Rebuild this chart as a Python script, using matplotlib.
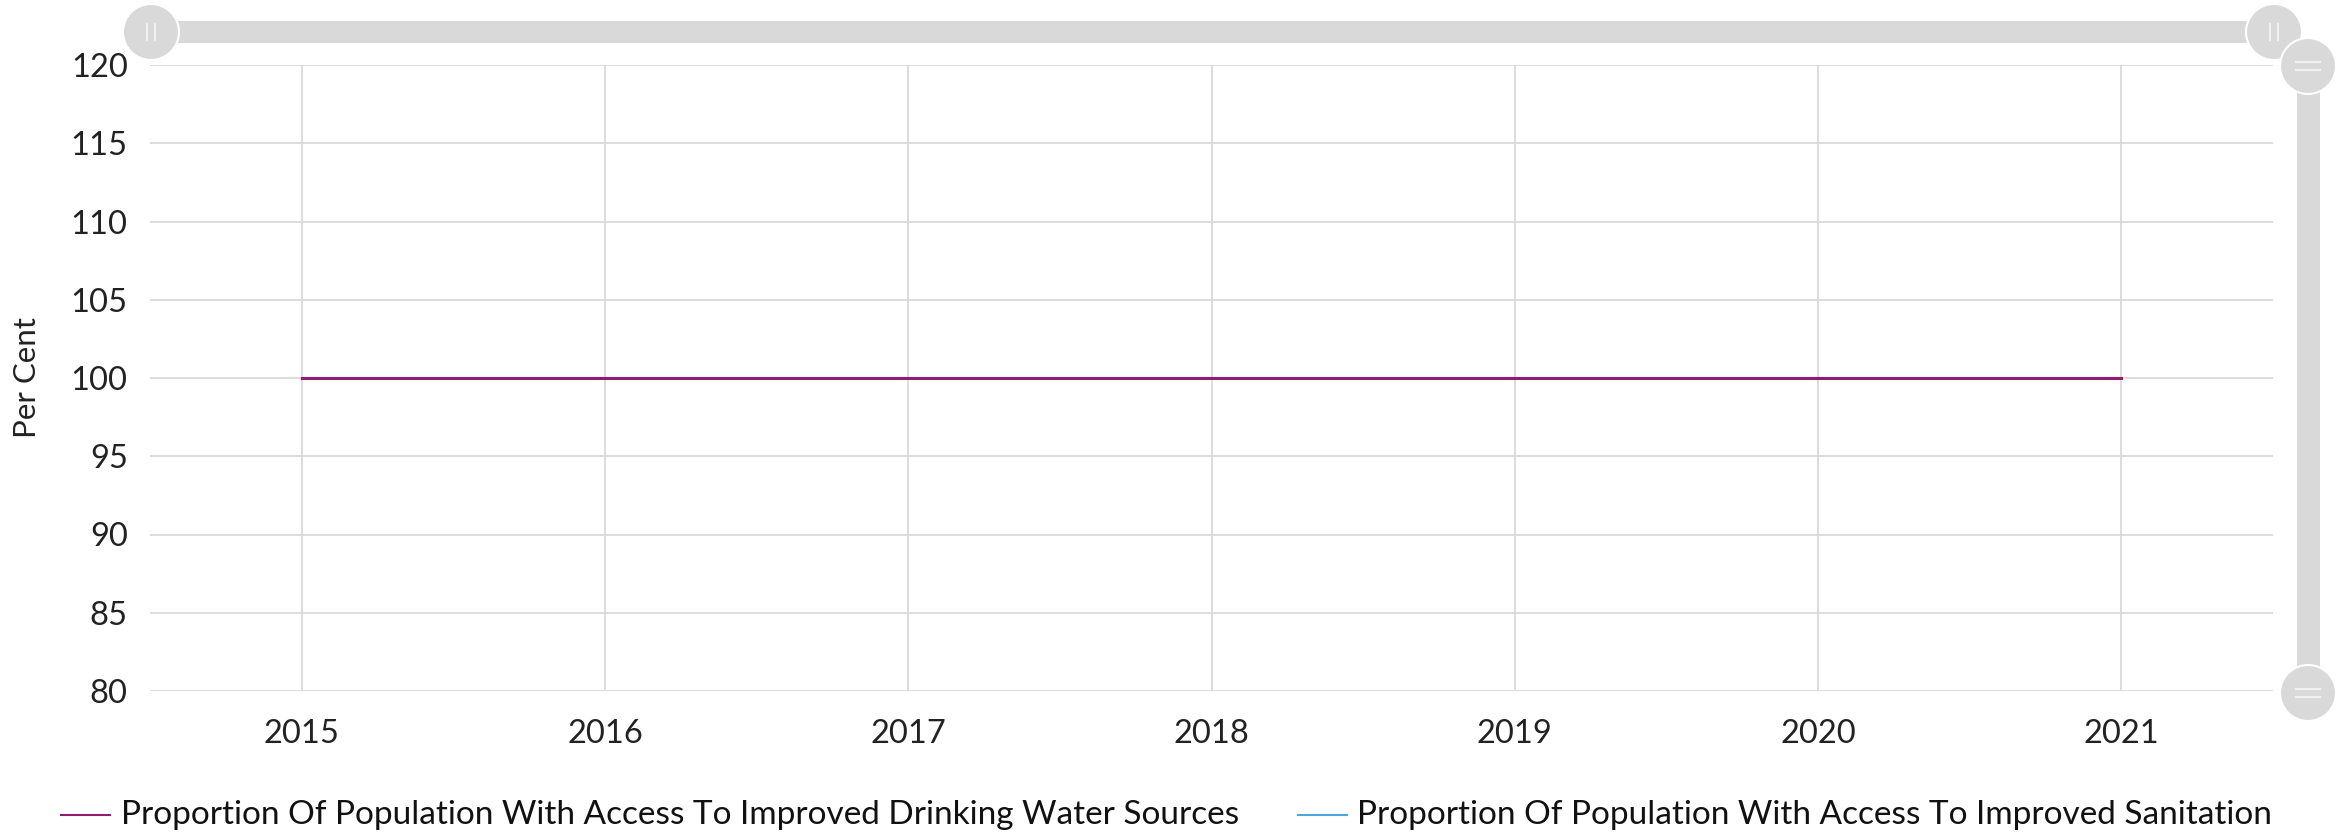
import matplotlib
matplotlib.use("Agg")
import matplotlib.pyplot as plt
from matplotlib.patches import Rectangle, Circle
from matplotlib.lines import Line2D

plt.rcParams['font.family'] = ['Lato', 'DejaVu Sans']

years = [2015, 2016, 2017, 2018, 2019, 2020, 2021]
water = [100, 100, 100, 100, 100, 100, 100]
sanitation = [100, 100, 100, 100, 100, 100, 100]
series_names = ["Proportion Of Population With Access To Improved Drinking Water Sources",
                "Proportion Of Population With Access To Improved Sanitation"]
colors = ["#8c1f73", "#4ea6dc"]
yticks = [80, 85, 90, 95, 100, 105, 110, 115, 120]

W, H = 2348, 832
fig = plt.figure(figsize=(W / 100, H / 100), dpi=100)
L, R, T, B = 150, 2273, 65, 691
ax = fig.add_axes([L / W, 1 - B / H, (R - L) / W, (B - T) / H])

ax.plot(years, sanitation, color=colors[1], lw=2, zorder=3)
ax.plot(years, water, color=colors[0], lw=2.2, zorder=4)

ax.set_xlim(2014.5, 2021.5)
ax.set_ylim(80, 120)
ax.set_xticks(years)
ax.set_xticklabels([str(y) for y in years])
ax.set_yticks(yticks)
ax.grid(True, color="#d6d6d6", lw=1.2)
ax.set_axisbelow(True)
for s in ax.spines.values():
    s.set_visible(False)
ax.tick_params(axis='both', length=0, labelsize=23.5, colors="#222222")
ax.tick_params(axis='y', pad=16)
ax.tick_params(axis='x', pad=20)
ax.set_ylabel("Per Cent", fontsize=22.5, color="#222222")
ax.yaxis.set_label_coords(-(L - 27) / (R - L), 0.5)
ax.yaxis.label.set_verticalalignment('center')

# slider decorations in pixel coords (top-left origin)
tr = fig.dpi_scale_trans
def P(x, y):
    return (x / 100, (H - y) / 100)

grey = "#d9d9d9"
# horizontal bar
x0, y0 = P(150, 43)
fig.add_artist(Rectangle((x0, y0), (2274 - 150) / 100, 22 / 100, transform=tr,
                         facecolor=grey, edgecolor='none'))
# vertical bar
x0, y0 = P(2297, 693)
fig.add_artist(Rectangle((x0, y0), 23 / 100, (693 - 66) / 100, transform=tr,
                         facecolor=grey, edgecolor='none'))

def handle(cx, cy, vertical_lines):
    fig.add_artist(Circle(P(cx, cy), 28 / 100, transform=tr, facecolor=grey,
                          edgecolor='white', lw=1.5))
    if vertical_lines:
        for dx in (-4, 4):
            a = P(cx + dx, cy - 8); b = P(cx + dx, cy + 8)
            fig.add_artist(Line2D([a[0], b[0]], [a[1], b[1]], transform=tr,
                                  color="#f4f4f4", lw=1.3))
    else:
        for dy in (-4, 4):
            a = P(cx - 12, cy + dy); b = P(cx + 12, cy + dy)
            fig.add_artist(Line2D([a[0], b[0]], [a[1], b[1]], transform=tr,
                                  color="#f4f4f4", lw=1.3))

handle(151, 32, True)
handle(2274, 32, True)
handle(2308, 66, False)
handle(2308, 693, False)

# legend
leg_y = 815
leg = [(61, 110, 121), (1298, 1347, 1357)]
for (lx0, lx1, tx), name, c in zip(leg, series_names, colors):
    a = P(lx0, leg_y); b = P(lx1, leg_y)
    fig.add_artist(Line2D([a[0], b[0]], [a[1], b[1]], transform=tr, color=c, lw=1.5))
    t = P(tx, leg_y)
    fig.text(t[0], t[1], name, transform=tr, fontsize=24, color="#111111",
             va='center', ha='left')

fig.savefig("out.png", dpi=100)
